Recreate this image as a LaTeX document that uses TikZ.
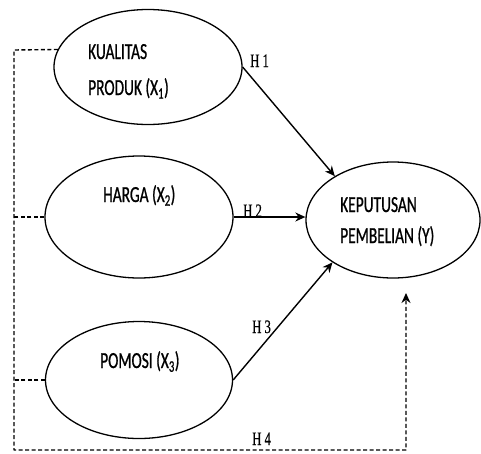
\documentclass[tikz,border=0pt]{standalone}
\usepackage{fontspec}
\usetikzlibrary{shapes.geometric,arrows.meta}
\newfontfamily\lblfont[FakeStretch=0.67,FakeBold=0.8]{Carlito}
\newfontfamily\hypfont[FakeStretch=0.67,FakeBold=0.5]{Liberation Serif}
\begin{document}
\begin{tikzpicture}[x=1pt,y=-1pt,>={Stealth[length=10pt,width=9pt]},line join=round,
  var/.style={draw,ellipse,line width=1.3pt,inner sep=0pt},
  txt/.style={anchor=base west,inner sep=0pt,font=\lblfont\fontsize{23}{28}\selectfont},
  hyp/.style={anchor=base west,inner sep=0pt,font=\hypfont\fontsize{19}{23}\selectfont},
  lnk/.style={->,line width=1.4pt},
  dashlink/.style={line width=1.4pt,dash pattern=on 4pt off 2.5pt}]
  \useasboundingbox (0,0) rectangle (481,453);
  % Variabel X
  \node[var,minimum width=188pt,minimum height=115pt] (x1) at (148,67) {};
  \node[txt] (x1a) at (88,59) {KUALITAS};
  \node[txt] (x1b) at (88,95) {PRODUK (X\textsubscript{1})};
  \node[var,minimum width=188pt,minimum height=122pt] (x2) at (139,217) {};
  \node[txt] (x2a) at (103,202) {HARGA (X\textsubscript{2})};
  \node[var,minimum width=187pt,minimum height=117pt] (x3) at (139,380) {};
  \node[txt] (x3a) at (100,368) {POMOSI (X\textsubscript{3})};
  % Variabel Y
  \node[var,minimum width=174pt,minimum height=116pt] (y) at (393,220) {};
  \node[txt] (ya) at (340,212) {KEPUTUSAN};
  \node[txt] (yb) at (340,243) {PEMBELIAN (Y)};
  % Hipotesis
  \draw[lnk] (x1.east) -- (y.143);
  \draw[lnk] (x2.east) -- (x2.east -| y.west);
  \draw[lnk] (x3.east) -- (y.215);
  \node[hyp] (h1) at (250,67) {H\,1};
  \node[hyp] (h2) at (243,217) {H\,2};
  \node[hyp] (h3) at (252,333) {H\,3};
  \node[hyp] (h4) at (252,445) {H\,4};
  % Garis putus-putus (simultan)
  \coordinate (tl) at (14,50);
  \coordinate (bl) at (14,450);
  \coordinate (br) at (406,450);
  \coordinate (h4end) at (406,293);
  \draw[dashlink,->] (x1.169) -- (tl) -- (bl) -- (br) -- (h4end);
  \draw[dashlink] (x2.west) -- (x2.west -| tl);
  \draw[dashlink] (x3.west) -- (x3.west -| tl);
\end{tikzpicture}
\end{document}
